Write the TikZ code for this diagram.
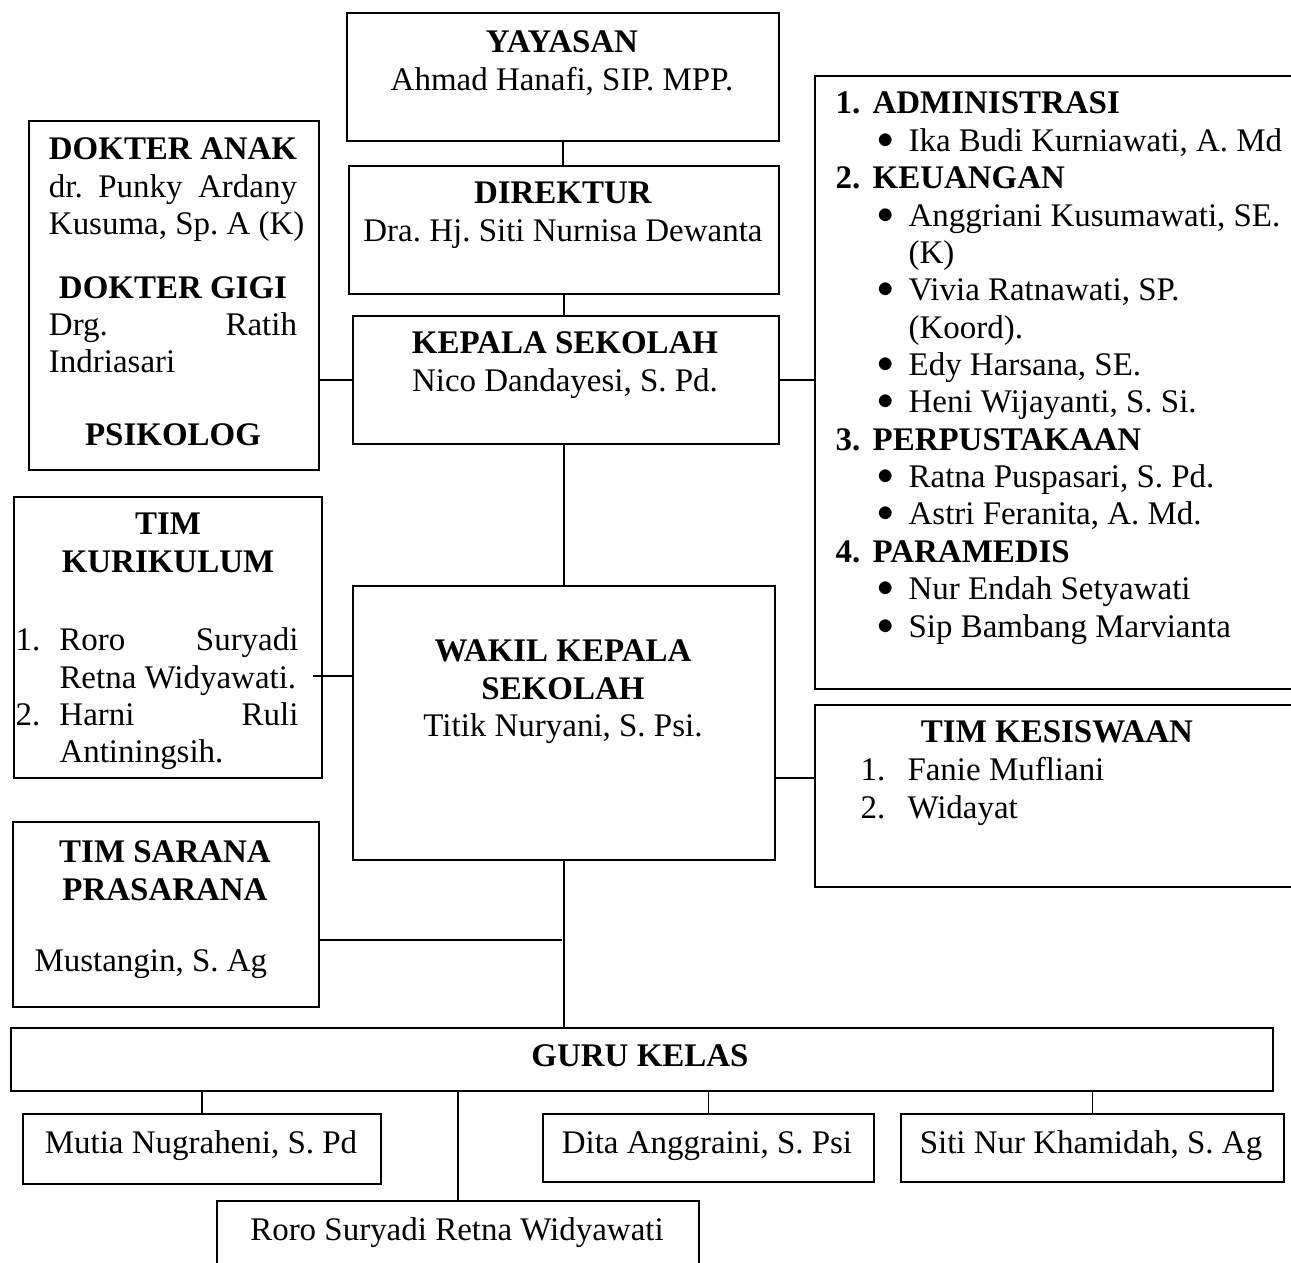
\documentclass[tikz,border=0pt]{standalone}
\usepackage{fontspec}
\setmainfont{Liberation Serif}
\usetikzlibrary{positioning}
\frenchspacing

\newcommand{\stk}[2][c]{\begin{tabular}[t]{@{}#1@{}}#2\end{tabular}}
\newcommand{\butir}{\hspace*{15.3pt}\makebox[11.3pt][l]{\raisebox{0.2ex}{$\bullet$}}}
\newcommand{\lanjut}{\hspace*{26.6pt}}
\newcommand{\bagian}[2]{\makebox[13.5pt][l]{\textbf{#1}}\textbf{#2}}

\begin{document}
\begin{tikzpicture}[x=0.364pt,y=-0.364pt,
    kotak/.style={draw,line width=0.8pt,rectangle,inner sep=0pt,anchor=north west},
    teks/.style={inner sep=0pt,anchor=base,font=\fontsize{12pt}{13.5pt}\selectfont},
    daftar/.style={teks,anchor=base west},
    garis/.style={line width=0.6pt}]
    \useasboundingbox (0,0) rectangle (1291,1263);
    % kotak-kotak
    \node[kotak,minimum width=157.2pt,minimum height=46.6pt] (yay) at (346,12) {};
    \node[kotak,minimum width=156.5pt,minimum height=46.6pt] (dir) at (348,165) {};
    \node[kotak,minimum width=155.1pt,minimum height=46.6pt] (kep) at (352,315) {};
    \node[kotak,minimum width=105.6pt,minimum height=127.0pt] (dok) at (28,120) {};
    \node[kotak,minimum width=112.1pt,minimum height=102.3pt] (kur) at (13,496) {};
    \node[kotak,minimum width=111.4pt,minimum height=67.3pt] (sar) at (12,821) {};
    \node[kotak,minimum width=153.6pt,minimum height=99.7pt] (wak) at (352,585) {};
    \node[kotak,minimum width=176.9pt,minimum height=223.1pt] (adm) at (814,75) {};
    \node[kotak,minimum width=176.9pt,minimum height=66.2pt] (kes) at (814,704) {};
    \node[kotak,minimum width=459.4pt,minimum height=22.9pt] (guru) at (10,1027) {};
    \node[kotak,minimum width=130.3pt,minimum height=25.5pt] (mut) at (22,1113) {};
    \node[kotak,minimum width=120.5pt,minimum height=24.8pt] (dit) at (542,1113) {};
    \node[kotak,minimum width=139.4pt,minimum height=24.8pt] (sit) at (900,1113) {};
    \node[kotak,minimum width=175.4pt,minimum height=32.8pt] (ror) at (216,1200) {};

    % isi teks
    \node[teks] (yayT) at (562,53) {\stk{\textbf{YAYASAN}\\Ahmad Hanafi, SIP. MPP.}};
    \node[teks] (dirT) at (563,204) {\stk{\textbf{DIREKTUR}\\Dra. Hj. Siti Nurnisa Dewanta}};
    \node[teks] (kepT) at (565,354) {\stk{\textbf{KEPALA SEKOLAH}\\Nico Dandayesi, S. Pd.}};
    \node[teks] (dokT) at (173,160) {\stk{\textbf{DOKTER ANAK}\\
        \makebox[90.3pt][s]{dr. Punky Ardany}\\
        \makebox[90.3pt][l]{Kusuma, Sp. A (K)}\\[9.8pt]
        \textbf{DOKTER GIGI}\\
        \makebox[90.3pt][s]{Drg. Ratih}\\
        \makebox[90.3pt][l]{Indriasari}\\[13.1pt]
        \textbf{PSIKOLOG}}};
    \node[teks] (kurT) at (168,535) {\stk{\textbf{TIM}\\\textbf{KURIKULUM}}};
    \node[daftar] (kurL) at (15,651) {\stk[l]{\makebox[16pt][l]{1.}\makebox[87pt][s]{Roro Suryadi}\\
        \hspace*{16pt}Retna Widyawati.\\
        \makebox[16pt][l]{2.}\makebox[87pt][s]{Harni Ruli}\\
        \hspace*{16pt}Antiningsih.}};
    \node[teks] (sarT) at (165,863) {\stk{\textbf{TIM SARANA}\\\textbf{PRASARANA}}};
    \node[daftar] (sarM) at (34,972) {Mustangin, S. Ag};
    \node[teks] (wakT) at (563,662) {\stk{\textbf{WAKIL KEPALA}\\\textbf{SEKOLAH}\\Titik Nuryani, S. Psi.}};
    \node[daftar,font=\fontsize{12pt}{13.6pt}\selectfont] (admL) at (835,114) {\stk[l]{%
        \bagian{1.}{ADMINISTRASI}\\
        \butir Ika Budi Kurniawati, A. Md\\
        \bagian{2.}{KEUANGAN}\\
        \butir Anggriani Kusumawati, SE.\\
        \lanjut (K)\\
        \butir Vivia Ratnawati, SP.\\
        \lanjut (Koord).\\
        \butir Edy Harsana, SE.\\
        \butir Heni Wijayanti, S. Si.\\
        \bagian{3.}{PERPUSTAKAAN}\\
        \butir Ratna Puspasari, S. Pd.\\
        \butir Astri Feranita, A. Md.\\
        \bagian{4.}{PARAMEDIS}\\
        \butir Nur Endah Setyawati\\
        \butir Sip Bambang Marvianta}};
    \node[teks] (kesT) at (1057,743) {\textbf{TIM KESISWAAN}};
    \node[daftar] (kesL) at (860,781) {\stk[l]{\makebox[17.1pt][l]{1.}Fanie Mufliani\\
        \makebox[17.1pt][l]{2.}Widayat}};
    \node[teks] (guruT) at (640,1067) {\textbf{GURU KELAS}};
    \node[teks] (mutT) at (201,1153) {Mutia Nugraheni, S. Pd};
    \node[teks] (ditT) at (707,1153) {Dita Anggraini, S. Psi};
    \node[teks] (sitT) at (1091,1153) {Siti Nur Khamidah, S. Ag};
    \node[teks] (rorT) at (457,1240) {Roro Suryadi Retna Widyawati};

    % titik sambung
    \coordinate (kurJ) at (313,676);
    \coordinate (kesJ) at (814,778);
    \coordinate (sarJ) at (562,940);

    % garis penghubung
    \draw[garis] (yay.south) -- (yay.south |- dir.north);
    \draw[garis] (dir.south) -- (dir.south |- kep.north);
    \draw[garis] (wak.north |- kep.south) -- (wak.north);
    \draw[garis] (kep.west) -- (kep.west -| dok.east);
    \draw[garis] (kep.east) -- (kep.east -| adm.west);
    \draw[garis] (kurJ) -- (kurJ -| wak.west);
    \draw[garis] (kesJ -| wak.east) -- (kesJ);
    \draw[garis] (wak.south) -- (wak.south |- guru.north);
    \draw[garis] (sarJ -| sar.east) -- (sarJ);
    \draw[garis] (mut.north) -- (mut.north |- guru.south);
    \draw[garis] (ror.north) -- (ror.north |- guru.south);
    \draw[garis] (dit.north) -- (dit.north |- guru.south);
    \draw[garis] (sit.north) -- (sit.north |- guru.south);
\end{tikzpicture}
\end{document}
